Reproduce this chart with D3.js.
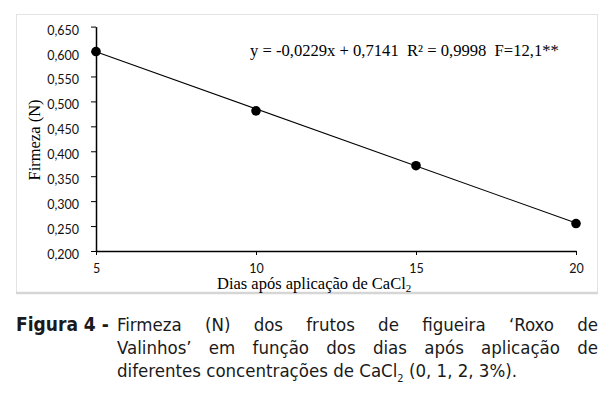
<!DOCTYPE html>
<html>
<head>
<meta charset="utf-8">
<script src="https://cdn.jsdelivr.net/npm/d3@7"></script>
<style>
  body { margin: 0; background: #fff; }
  svg { display: block; }
</style>
</head>
<body>
<svg id="chart"></svg>
<script>
const days = [5, 10, 15, 20];
const firmness = [0.600, 0.481, 0.371, 0.255];
const yTicks = [0.200, 0.250, 0.300, 0.350, 0.400, 0.450, 0.500, 0.550, 0.600, 0.650];
const xTicks = [5, 10, 15, 20];
const slope = -0.0229, intercept = 0.7141;
const equationText = "y = -0,0229x + 0,7141  R² = 0,9998  F=12,1**";
const captionLines = [
    "Firmeza (N) dos frutos de figueira ‘Roxo de",
    "Valinhos’ em função dos dias após aplicação de",
    "diferentes concentrações de CaCl"
];

const width = 613, height = 395;
const plotLeft = 96, plotRight = 576, plotTop = 26.6, plotBottom = 251;

const svg = d3.select("#chart")
    .attr("width", width)
    .attr("height", height)
    .attr("viewBox", [0, 0, width, height]);

const x = d3.scaleLinear().domain([5, 20]).range([plotLeft, plotRight]);
const y = d3.scaleLinear().domain([0.2, 0.65]).range([plotBottom, plotTop]);

const ptBr = d3.formatLocale({decimal: ",", thousands: ".", grouping: [3], currency: ["", ""]});
const fmt = ptBr.format(".3f");

const tickFont = "Lato, 'Open Sans', sans-serif";
const serif = "'Liberation Serif', 'Times New Roman', serif";

// chart frame
svg.append("rect")
    .attr("x", 16.5).attr("y", 14.5)
    .attr("width", 581).attr("height", 278)
    .attr("fill", "#fff")
    .attr("stroke", "#e3e3e3")
    .attr("stroke-width", 1);
svg.append("line")
    .attr("x1", 16).attr("x2", 598)
    .attr("y1", 293).attr("y2", 293)
    .attr("stroke", "#d6d6d6")
    .attr("stroke-width", 2.5);

// y axis
const yAxis = svg.append("g")
    .attr("transform", `translate(${plotLeft},0)`)
    .call(d3.axisLeft(y).tickValues(yTicks).tickFormat(fmt).tickSize(5).tickSizeOuter(0).tickPadding(12));
yAxis.select(".domain").attr("stroke", "#000").attr("stroke-width", 1.5);
yAxis.selectAll(".tick line").attr("stroke", "#000");
yAxis.selectAll(".tick text")
    .attr("dy", "0.6em")
    .style("font-family", tickFont)
    .style("font-size", "12.5px")
    .attr("fill", "#111");

// x axis
const xAxis = svg.append("g")
    .attr("transform", `translate(0,${plotBottom})`)
    .call(d3.axisBottom(x).tickValues(xTicks).tickSize(4).tickSizeOuter(0).tickPadding(9));
xAxis.select(".domain").attr("stroke", "#000").attr("stroke-width", 1.5);
xAxis.selectAll(".tick line").attr("stroke", "#000");
xAxis.selectAll(".tick text")
    .style("font-family", tickFont)
    .style("font-size", "12.5px")
    .attr("fill", "#111");

// trend line from the regression equation
const line = d3.line().x(d => x(d)).y(d => y(slope * d + intercept));
svg.append("path")
    .datum(d3.extent(days))
    .attr("d", line)
    .attr("fill", "none")
    .attr("stroke", "#000")
    .attr("stroke-width", 1.1);

// data points
svg.selectAll("circle.pt")
    .data(days.map((d, i) => [d, firmness[i]]))
    .join("circle")
    .attr("class", "pt")
    .attr("cx", d => x(d[0]))
    .attr("cy", d => y(d[1]))
    .attr("r", 4.8)
    .attr("fill", "#000");

// equation
svg.append("text")
    .attr("x", 250).attr("y", 56)
    .style("font-family", serif)
    .style("font-size", "16.6px")
    .attr("xml:space", "preserve")
    .text(equationText);

// axis titles
svg.append("text")
    .attr("transform", "translate(40,140) rotate(-90)")
    .attr("text-anchor", "middle")
    .style("font-family", serif)
    .style("font-size", "16.5px")
    .text("Firmeza (N)");

const xTitle = svg.append("text")
    .attr("x", 217).attr("y", 289)
    .style("font-family", serif)
    .style("font-size", "16.5px");
xTitle.append("tspan").text("Dias após aplicação de CaCl");
xTitle.append("tspan").attr("dy", 3).style("font-size", "11px").text("2");

// caption
const capFont = "'DejaVu Sans Condensed', 'Liberation Sans Narrow', 'DejaVu Sans', sans-serif";
const capSize = 18.5;
const capLeft = 117, capRight = 598;
const baselines = [331, 354, 377];

svg.append("text")
    .attr("x", 16).attr("y", baselines[0])
    .style("font-family", capFont)
    .style("font-stretch", "condensed")
    .style("font-weight", "bold")
    .style("font-size", "19px")
    .attr("fill", "#1a1a1a")
    .text("Figura 4 -");

function justify(str, baseline) {
    const words = str.split(" ");
    const g = svg.append("g");
    const nodes = words.map(w => g.append("text")
        .attr("y", baseline)
        .style("font-family", capFont)
        .style("font-stretch", "condensed")
        .style("font-size", capSize + "px")
        .attr("fill", "#1a1a1a")
        .text(w));
    const widths = nodes.map(n => n.node().getComputedTextLength());
    const gap = (capRight - capLeft - d3.sum(widths)) / (words.length - 1);
    let cx = capLeft;
    nodes.forEach((n, i) => {
        n.attr("x", cx);
        cx += widths[i] + gap;
    });
}
justify(captionLines[0], baselines[0]);
justify(captionLines[1], baselines[1]);

const last = svg.append("text")
    .attr("x", capLeft).attr("y", baselines[2])
    .style("font-family", capFont)
    .style("font-stretch", "condensed")
    .style("font-size", capSize + "px")
    .attr("fill", "#1a1a1a");
last.append("tspan").text(captionLines[2]);
last.append("tspan").attr("dy", 5).style("font-size", "11px").text("2");
last.append("tspan").attr("dy", -5).text(" (0, 1, 2, 3%).");
</script>
</body>
</html>
